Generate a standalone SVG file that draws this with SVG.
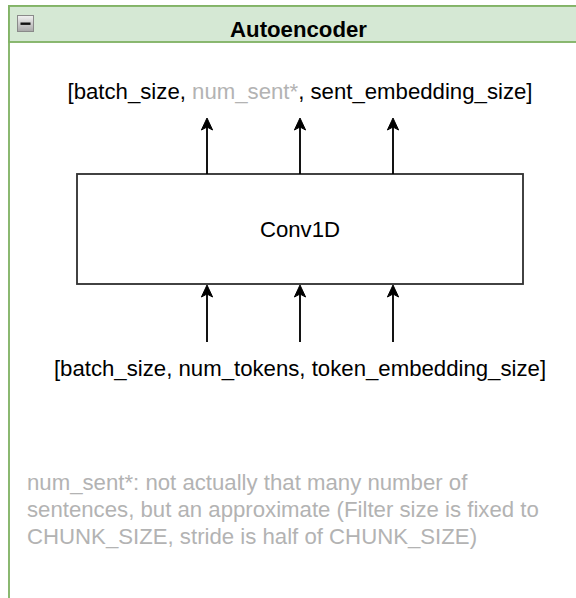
<svg xmlns="http://www.w3.org/2000/svg" width="576" height="598" viewBox="0 0 576 598">
  <style>
    text { font-family: "Liberation Sans", Arial, sans-serif; font-size: 22.2px; fill: #000000; }
    .title { font-weight: bold; }
    .muted { fill: #B3B3B3; }
    .edge { stroke: #000000; stroke-width: 1.85; fill: none; }
  </style>
  <defs>
    <marker id="arrow" markerUnits="userSpaceOnUse" viewBox="-1 -7 14 14" markerWidth="14" markerHeight="14" refX="3" refY="0" orient="auto">
      <path d="M12,0 L0,-5.6 L3,0 L0,5.6 Z" fill="#000000" stroke="#000000" stroke-width="1"/>
    </marker>
    <linearGradient id="iconFill" x1="0" y1="0" x2="0" y2="1">
      <stop offset="0" stop-color="#f2f2f2"/>
      <stop offset="1" stop-color="#a8a8a8"/>
    </linearGradient>
  </defs>

  <!-- container: Autoencoder swimlane -->
  <g id="autoencoder">
    <rect x="9" y="6" width="590" height="620" fill="#ffffff" stroke="#82b366" stroke-width="1.85"/>
    <rect x="9" y="6" width="590" height="36" fill="#d5e8d4" stroke="#82b366" stroke-width="1.85"/>
    <!-- collapse toggle -->
    <rect x="17.5" y="15.5" width="16" height="16" fill="url(#iconFill)" stroke="#8a8a8a" stroke-width="1"/>
    <rect x="20.5" y="22.5" width="10" height="2.4" fill="#111111"/>
    <text class="title" x="298.5" y="37" text-anchor="middle">Autoencoder</text>
  </g>

  <!-- output shape label -->
  <g id="output-shape">
    <text x="300" y="99" text-anchor="middle">[batch_size, <tspan class="muted">num_sent*</tspan>, sent_embedding_size]</text>
  </g>

  <!-- convolution block -->
  <g id="conv1d">
    <rect x="77" y="174" width="446" height="110" fill="#ffffff" stroke="#333333" stroke-width="1.85"/>
    <text x="300" y="237" text-anchor="middle">Conv1D</text>
  </g>

  <!-- input shape label -->
  <g id="input-shape">
    <text x="300" y="376" text-anchor="middle">[batch_size, num_tokens, token_embedding_size]</text>
  </g>

  <!-- footnote -->
  <g id="note">
    <text class="muted" x="27" y="489.5">num_sent*: not actually that many number of</text>
    <text class="muted" x="27" y="516.5">sentences, but an approximate (Filter size is fixed to</text>
    <text class="muted" x="27" y="543.5">CHUNK_SIZE, stride is half of CHUNK_SIZE)</text>
  </g>

  <!-- connectors -->
  <g id="connectors">
    <line class="edge" x1="207" y1="174" x2="207" y2="127" marker-end="url(#arrow)"/>
    <line class="edge" x1="300" y1="174" x2="300" y2="127" marker-end="url(#arrow)"/>
    <line class="edge" x1="393" y1="174" x2="393" y2="127" marker-end="url(#arrow)"/>
    <line class="edge" x1="207" y1="342" x2="207" y2="294" marker-end="url(#arrow)"/>
    <line class="edge" x1="300" y1="342" x2="300" y2="294" marker-end="url(#arrow)"/>
    <line class="edge" x1="393" y1="342" x2="393" y2="294" marker-end="url(#arrow)"/>
  </g>
</svg>
